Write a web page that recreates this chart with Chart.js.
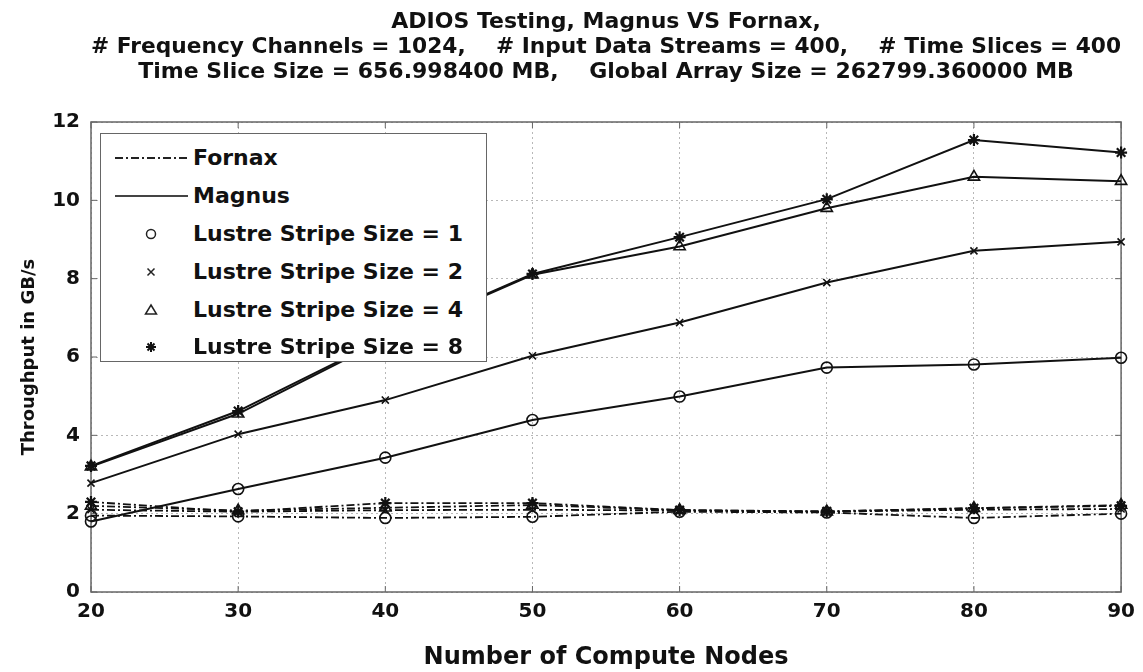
<!DOCTYPE html>
<html><head><meta charset="utf-8">
<script src="https://cdn.jsdelivr.net/npm/chart.js@4.4.0/dist/chart.umd.min.js"></script>
<style>
html,body{margin:0;padding:0;background:#fff;}
#wrap{position:relative;width:1143px;height:672px;}
#legend{position:absolute;left:100px;top:133px;width:387px;height:229px;border:1.5px solid #666;background:#fff;font-family:'DejaVu Sans';font-weight:bold;font-size:22px;color:#111;box-sizing:border-box;}
.row{position:absolute;left:0;height:38px;line-height:38px;width:100%;}
.row svg{position:absolute;left:0;top:0}
.row span{position:absolute;left:92px;top:0;white-space:nowrap;}
</style></head>
<body>
<div id="wrap">
<canvas id="c" width="1143" height="672"></canvas>
<div id="legend">
 <div class="row" style="top:5px"><svg width="90" height="38"><line x1="14" y1="19" x2="87" y2="19" stroke="#222" stroke-width="1.8" stroke-dasharray="8,3,2,3"/></svg><span>Fornax</span></div>
 <div class="row" style="top:43px"><svg width="90" height="38"><line x1="14" y1="19" x2="87" y2="19" stroke="#444" stroke-width="2.2"/></svg><span>Magnus</span></div>
 <div class="row" style="top:81px"><svg width="90" height="38"><circle cx="50" cy="19" r="4.5" fill="none" stroke="#222" stroke-width="1.5"/></svg><span>Lustre Stripe Size = 1</span></div>
 <div class="row" style="top:119px"><svg width="90" height="38"><path d="M46.5 15.5 L53.5 22.5 M53.5 15.5 L46.5 22.5" stroke="#222" stroke-width="1.5"/></svg><span>Lustre Stripe Size = 2</span></div>
 <div class="row" style="top:157px"><svg width="90" height="38"><path d="M50 14 L55.5 23 L44.5 23 Z" fill="none" stroke="#222" stroke-width="1.5"/></svg><span>Lustre Stripe Size = 4</span></div>
 <div class="row" style="top:194px"><svg width="90" height="38"><path d="M50 14 L50 24 M45 19 L55 19 M46.5 15.5 L53.5 22.5 M53.5 15.5 L46.5 22.5" stroke="#111" stroke-width="2"/></svg><span>Lustre Stripe Size = 8</span></div>
</div>
</div>
<script>
// ---- data ----
const nodes = [20, 30, 40, 50, 60, 70, 80, 90];
const magnusStripe1 = [1.80, 2.63, 3.43, 4.39, 4.99, 5.73, 5.81, 5.98];
const magnusStripe2 = [2.78, 4.03, 4.90, 6.03, 6.88, 7.90, 8.71, 8.94];
const magnusStripe4 = [3.20, 4.55, 6.45, 8.10, 8.82, 9.80, 10.60, 10.49];
const magnusStripe8 = [3.22, 4.62, 6.48, 8.12, 9.06, 10.03, 11.54, 11.22];
const fornaxStripe1 = [1.95, 1.93, 1.89, 1.92, 2.05, 2.03, 1.89, 2.00];
const fornaxStripe2 = [2.10, 2.05, 2.09, 2.10, 2.08, 2.05, 2.10, 2.12];
const fornaxStripe4 = [2.20, 2.08, 2.15, 2.22, 2.09, 2.05, 2.14, 2.22];
const fornaxStripe8 = [2.30, 2.05, 2.27, 2.27, 2.09, 2.06, 2.14, 2.20];
const titleLines = [
  'ADIOS Testing, Magnus VS Fornax,',
  '# Frequency Channels = 1024,    # Input Data Streams = 400,    # Time Slices = 400',
  'Time Slice Size = 656.998400 MB,    Global Array Size = 262799.360000 MB'
];
const xTitle = 'Number of Compute Nodes';
const yTitle = 'Throughput in GB/s';

const FONT = 'DejaVu Sans';
const toXY = arr => arr.map((v, i) => ({x: nodes[i], y: v}));

function ds(label, arr, style, dashed) {
  const sizes = {circle: 5.5, crossRot: 5, triangle: 6.5, star: 6};
  return {
    label, data: toXY(arr),
    borderColor: '#111', backgroundColor: 'rgba(0,0,0,0)',
    borderWidth: dashed ? 1.8 : 2,
    borderDash: dashed ? [8, 3, 2, 3] : [],
    pointStyle: style, pointRadius: sizes[style], pointHoverRadius: sizes[style],
    pointBorderWidth: style === 'star' ? 2.2 : 1.6,
    pointBorderColor: '#111', pointBackgroundColor: 'rgba(0,0,0,0)',
    tension: 0, clip: false
  };
}

const boxPlugin = {
  id: 'box',
  beforeDatasetsDraw(chart) {
    const {ctx, chartArea: a, scales: {x, y}} = chart;
    ctx.save();
    ctx.strokeStyle = '#666';
    ctx.lineWidth = 1.5;
    ctx.setLineDash([]);
    ctx.strokeRect(a.left, a.top, a.right - a.left, a.bottom - a.top);
    ctx.lineWidth = 1;
    const L = 6;
    ctx.beginPath();
    x.ticks.forEach(t => {
      const px = x.getPixelForValue(t.value);
      ctx.moveTo(px, a.bottom); ctx.lineTo(px, a.bottom - L);
      ctx.moveTo(px, a.top); ctx.lineTo(px, a.top + L);
    });
    y.ticks.forEach(t => {
      const py = y.getPixelForValue(t.value);
      ctx.moveTo(a.left, py); ctx.lineTo(a.left + L, py);
      ctx.moveTo(a.right, py); ctx.lineTo(a.right - L, py);
    });
    ctx.stroke();
    ctx.restore();
  }
};

new Chart(document.getElementById('c'), {
  type: 'line',
  data: {
    datasets: [
      ds('Fornax, Lustre Stripe Size = 1', fornaxStripe1, 'circle', true),
      ds('Fornax, Lustre Stripe Size = 2', fornaxStripe2, 'crossRot', true),
      ds('Fornax, Lustre Stripe Size = 4', fornaxStripe4, 'triangle', true),
      ds('Fornax, Lustre Stripe Size = 8', fornaxStripe8, 'star', true),
      ds('Magnus, Lustre Stripe Size = 1', magnusStripe1, 'circle', false),
      ds('Magnus, Lustre Stripe Size = 2', magnusStripe2, 'crossRot', false),
      ds('Magnus, Lustre Stripe Size = 4', magnusStripe4, 'triangle', false),
      ds('Magnus, Lustre Stripe Size = 8', magnusStripe8, 'star', false)
    ]
  },
  options: {
    responsive: false, animation: false, devicePixelRatio: 1,
    layout: {padding: {left: 0, right: 18, top: 0, bottom: 0}},
    plugins: {
      legend: {display: false},
      tooltip: {enabled: false},
      title: {
        display: true, fullSize: false, text: titleLines, color: '#111',
        font: {family: FONT, size: 22, weight: 'bold', lineHeight: 25 / 22},
        padding: {top: 10, bottom: 37}
      }
    },
    scales: {
      x: {
        type: 'linear', min: 20, max: 90,
        afterFit: s => { s.height = 80; },
        ticks: {stepSize: 10, color: '#111', padding: 8, font: {family: FONT, size: 20, weight: 'bold'}},
        grid: {color: '#b8b8b8', lineWidth: 1, drawTicks: false},
        border: {display: false, dash: [2, 3]},
        title: {display: true, text: xTitle, color: '#111', font: {family: FONT, size: 24, weight: 'bold'}, padding: {top: 0, bottom: 0}}
      },
      y: {
        min: 0, max: 12,
        afterFit: s => { s.width = 91; },
        ticks: {stepSize: 2, color: '#111', padding: 11, font: {family: FONT, size: 20, weight: 'bold'}},
        grid: {color: '#b8b8b8', lineWidth: 1, drawTicks: false},
        border: {display: false, dash: [2, 3]},
        title: {display: true, text: yTitle, color: '#111', font: {family: FONT, size: 18, weight: 'bold'}, padding: {top: 19, bottom: 0}}
      }
    }
  },
  plugins: [boxPlugin]
});
</script>
</body></html>
